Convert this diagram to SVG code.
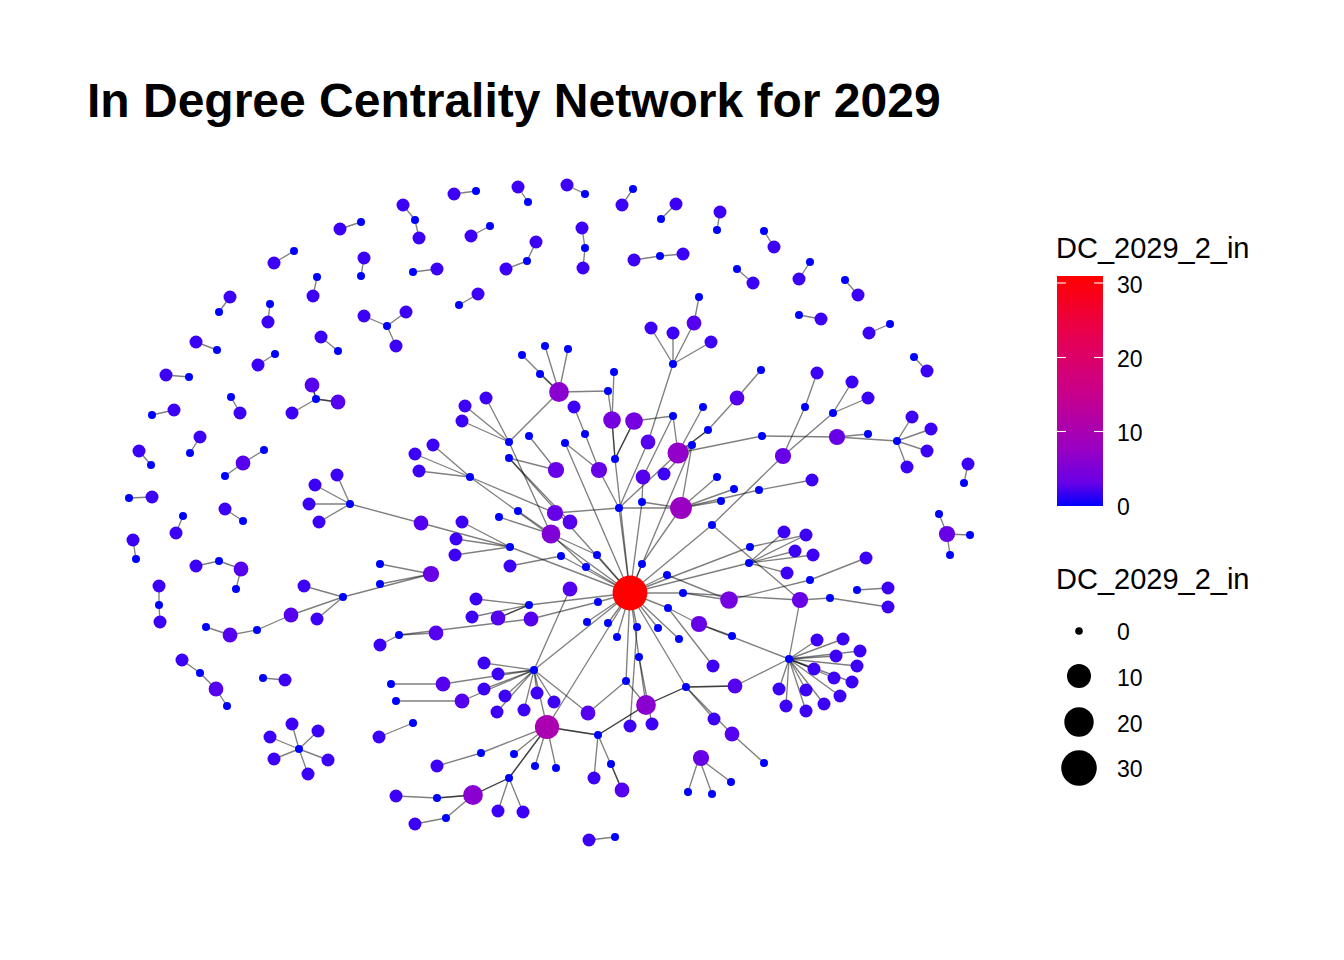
<svg xmlns="http://www.w3.org/2000/svg" width="1344" height="960" viewBox="0 0 1344 960">
<style>
text{font-family:"Liberation Sans",Arial,sans-serif;fill:#000}
.title{font-size:48px;font-weight:bold}
.lt{font-size:29px}
.tk{font-size:23px}
.e line{stroke:#000;stroke-opacity:.5;stroke-width:1.35}
.d0{fill:#0000FF;r:4px}
.d1{fill:#3D00F7;r:6.5px}
.d2{fill:#5500EF;r:7.4px}
.d3{fill:#6800E7;r:8.1px}
.d4{fill:#7500E0;r:8.8px}
.d5{fill:#8000D8;r:9.4px}
.d6{fill:#8A00D0;r:9.9px}
.d7{fill:#9200C9;r:10.5px}
.d8{fill:#9A00C2;r:10.9px}
.d10{fill:#AB00B2;r:12.1px}
.d31{fill:#FF0000;r:17.4px}
.tick{stroke:#fff;stroke-width:1.1}
</style>
<defs>
<linearGradient id="cbar" x1="0" y1="1" x2="0" y2="0">
<stop offset="0" stop-color="#0000FF"/>
<stop offset="0.1" stop-color="#6800E7"/>
<stop offset="0.25" stop-color="#9A00C2"/>
<stop offset="0.5" stop-color="#CA0089"/>
<stop offset="0.75" stop-color="#E8004F"/>
<stop offset="1" stop-color="#FF0000"/>
</linearGradient>
</defs>
<rect width="1344" height="960" fill="#fff"/>
<text class="title" x="87" y="117">In Degree Centrality Network for 2029</text>

<g id="edges" class="e">
<line x1="454" y1="194" x2="476" y2="191"/>
<line x1="518" y1="187" x2="528" y2="202"/>
<line x1="567" y1="185" x2="585" y2="194"/>
<line x1="633" y1="189" x2="622" y2="205"/>
<line x1="676" y1="204" x2="661" y2="219"/>
<line x1="720" y1="212" x2="717" y2="230"/>
<line x1="764" y1="231" x2="774" y2="247"/>
<line x1="737" y1="269" x2="753" y2="283"/>
<line x1="810" y1="262" x2="799" y2="279"/>
<line x1="845" y1="280" x2="858" y2="295"/>
<line x1="799" y1="315" x2="821" y2="319"/>
<line x1="890" y1="324" x2="869" y2="333"/>
<line x1="914" y1="357" x2="927" y2="371"/>
<line x1="340" y1="229" x2="361" y2="222"/>
<line x1="274" y1="263" x2="294" y2="251"/>
<line x1="364" y1="258" x2="361" y2="276"/>
<line x1="317" y1="277" x2="313" y2="296"/>
<line x1="230" y1="297" x2="219" y2="312"/>
<line x1="270" y1="304" x2="268" y2="322"/>
<line x1="387" y1="326" x2="364" y2="316"/>
<line x1="387" y1="326" x2="406" y2="312"/>
<line x1="387" y1="326" x2="396" y2="346"/>
<line x1="196" y1="342" x2="217" y2="350"/>
<line x1="321" y1="337" x2="338" y2="351"/>
<line x1="275" y1="354" x2="258" y2="365"/>
<line x1="166" y1="375" x2="189" y2="377"/>
<line x1="316" y1="399" x2="312" y2="385"/>
<line x1="316" y1="399" x2="312" y2="385"/>
<line x1="316" y1="399" x2="338" y2="402"/>
<line x1="316" y1="399" x2="338" y2="402"/>
<line x1="316" y1="399" x2="292" y2="413"/>
<line x1="231" y1="397" x2="240" y2="413"/>
<line x1="174" y1="410" x2="152" y2="415"/>
<line x1="415" y1="220" x2="403" y2="205"/>
<line x1="415" y1="220" x2="419" y2="238"/>
<line x1="471" y1="236" x2="490" y2="226"/>
<line x1="527" y1="261" x2="536" y2="242"/>
<line x1="527" y1="261" x2="506" y2="269"/>
<line x1="585" y1="248" x2="582" y2="228"/>
<line x1="585" y1="248" x2="583" y2="268"/>
<line x1="660" y1="256" x2="634" y2="260"/>
<line x1="660" y1="256" x2="683" y2="254"/>
<line x1="413" y1="272" x2="437" y2="269"/>
<line x1="459" y1="305" x2="478" y2="294"/>
<line x1="200" y1="437" x2="190" y2="453"/>
<line x1="139" y1="451" x2="151" y2="465"/>
<line x1="264" y1="450" x2="243" y2="463"/>
<line x1="225" y1="476" x2="243" y2="463"/>
<line x1="129" y1="498" x2="152" y2="497"/>
<line x1="225" y1="509" x2="243" y2="521"/>
<line x1="183" y1="516" x2="176" y2="533"/>
<line x1="133" y1="540" x2="136" y2="559"/>
<line x1="219" y1="561" x2="196" y2="566"/>
<line x1="219" y1="561" x2="241" y2="569"/>
<line x1="236" y1="589" x2="241" y2="569"/>
<line x1="159" y1="605" x2="159" y2="586"/>
<line x1="159" y1="605" x2="160" y2="622"/>
<line x1="968" y1="464" x2="964" y2="483"/>
<line x1="939" y1="514" x2="947" y2="534"/>
<line x1="970" y1="535" x2="947" y2="534"/>
<line x1="950" y1="555" x2="947" y2="534"/>
<line x1="206" y1="627" x2="230" y2="635"/>
<line x1="257" y1="630" x2="230" y2="635"/>
<line x1="257" y1="630" x2="291" y2="615"/>
<line x1="200" y1="673" x2="182" y2="660"/>
<line x1="200" y1="673" x2="216" y2="689"/>
<line x1="227" y1="706" x2="216" y2="689"/>
<line x1="263" y1="678" x2="285" y2="680"/>
<line x1="299" y1="749" x2="292" y2="724"/>
<line x1="299" y1="749" x2="318" y2="731"/>
<line x1="299" y1="749" x2="270" y2="737"/>
<line x1="299" y1="749" x2="274" y2="759"/>
<line x1="299" y1="749" x2="328" y2="760"/>
<line x1="299" y1="749" x2="308" y2="774"/>
<line x1="615" y1="837" x2="589" y2="840"/>
<line x1="522" y1="355" x2="559" y2="392"/>
<line x1="545" y1="346" x2="559" y2="392"/>
<line x1="568" y1="349" x2="559" y2="392"/>
<line x1="540" y1="374" x2="559" y2="392"/>
<line x1="608" y1="391" x2="559" y2="392"/>
<line x1="509" y1="442" x2="559" y2="392"/>
<line x1="608" y1="391" x2="612" y2="420"/>
<line x1="614" y1="372" x2="612" y2="420"/>
<line x1="615" y1="459" x2="612" y2="420"/>
<line x1="615" y1="459" x2="612" y2="420"/>
<line x1="615" y1="459" x2="634" y2="421"/>
<line x1="615" y1="459" x2="634" y2="421"/>
<line x1="615" y1="459" x2="630" y2="593"/>
<line x1="585" y1="434" x2="574" y2="407"/>
<line x1="585" y1="434" x2="599" y2="470"/>
<line x1="565" y1="443" x2="599" y2="470"/>
<line x1="565" y1="443" x2="630" y2="593"/>
<line x1="529" y1="436" x2="556" y2="470"/>
<line x1="509" y1="458" x2="556" y2="470"/>
<line x1="509" y1="458" x2="570" y2="522"/>
<line x1="509" y1="458" x2="630" y2="593"/>
<line x1="509" y1="442" x2="465" y2="406"/>
<line x1="509" y1="442" x2="486" y2="398"/>
<line x1="509" y1="442" x2="462" y2="421"/>
<line x1="509" y1="442" x2="551" y2="534"/>
<line x1="470" y1="477" x2="433" y2="445"/>
<line x1="470" y1="477" x2="415" y2="454"/>
<line x1="470" y1="477" x2="419" y2="471"/>
<line x1="470" y1="477" x2="555" y2="513"/>
<line x1="470" y1="477" x2="630" y2="593"/>
<line x1="673" y1="364" x2="651" y2="328"/>
<line x1="673" y1="364" x2="673" y2="333"/>
<line x1="673" y1="364" x2="694" y2="323"/>
<line x1="699" y1="297" x2="694" y2="323"/>
<line x1="673" y1="364" x2="711" y2="342"/>
<line x1="673" y1="364" x2="648" y2="442"/>
<line x1="619" y1="508" x2="648" y2="442"/>
<line x1="619" y1="508" x2="599" y2="470"/>
<line x1="619" y1="508" x2="555" y2="513"/>
<line x1="619" y1="508" x2="678" y2="453"/>
<line x1="619" y1="508" x2="681" y2="508"/>
<line x1="619" y1="508" x2="630" y2="593"/>
<line x1="673" y1="416" x2="678" y2="453"/>
<line x1="673" y1="416" x2="643" y2="477"/>
<line x1="673" y1="416" x2="634" y2="421"/>
<line x1="692" y1="445" x2="678" y2="453"/>
<line x1="692" y1="445" x2="664" y2="474"/>
<line x1="692" y1="445" x2="681" y2="508"/>
<line x1="692" y1="445" x2="630" y2="593"/>
<line x1="642" y1="502" x2="643" y2="477"/>
<line x1="642" y1="502" x2="681" y2="508"/>
<line x1="642" y1="502" x2="630" y2="593"/>
<line x1="703" y1="407" x2="678" y2="453"/>
<line x1="708" y1="430" x2="678" y2="453"/>
<line x1="708" y1="430" x2="678" y2="453"/>
<line x1="708" y1="430" x2="737" y2="398"/>
<line x1="761" y1="370" x2="737" y2="398"/>
<line x1="762" y1="436" x2="678" y2="453"/>
<line x1="762" y1="436" x2="837" y2="437"/>
<line x1="868" y1="434" x2="837" y2="437"/>
<line x1="897" y1="441" x2="837" y2="437"/>
<line x1="897" y1="441" x2="912" y2="417"/>
<line x1="897" y1="441" x2="931" y2="429"/>
<line x1="897" y1="441" x2="927" y2="451"/>
<line x1="897" y1="441" x2="907" y2="467"/>
<line x1="805" y1="407" x2="817" y2="373"/>
<line x1="805" y1="407" x2="783" y2="456"/>
<line x1="833" y1="413" x2="852" y2="382"/>
<line x1="833" y1="413" x2="868" y2="398"/>
<line x1="833" y1="413" x2="783" y2="456"/>
<line x1="712" y1="525" x2="783" y2="456"/>
<line x1="712" y1="525" x2="630" y2="593"/>
<line x1="712" y1="525" x2="800" y2="600"/>
<line x1="717" y1="477" x2="681" y2="508"/>
<line x1="734" y1="489" x2="681" y2="508"/>
<line x1="721" y1="501" x2="681" y2="508"/>
<line x1="759" y1="490" x2="681" y2="508"/>
<line x1="759" y1="490" x2="812" y2="480"/>
<line x1="642" y1="564" x2="681" y2="508"/>
<line x1="642" y1="564" x2="630" y2="593"/>
<line x1="518" y1="511" x2="551" y2="534"/>
<line x1="499" y1="517" x2="551" y2="534"/>
<line x1="597" y1="555" x2="551" y2="534"/>
<line x1="597" y1="555" x2="630" y2="593"/>
<line x1="350" y1="504" x2="337" y2="475"/>
<line x1="350" y1="504" x2="315" y2="485"/>
<line x1="350" y1="504" x2="309" y2="504"/>
<line x1="350" y1="504" x2="319" y2="522"/>
<line x1="350" y1="504" x2="421" y2="523"/>
<line x1="510" y1="547" x2="421" y2="523"/>
<line x1="510" y1="547" x2="462" y2="522"/>
<line x1="510" y1="547" x2="456" y2="539"/>
<line x1="510" y1="547" x2="455" y2="555"/>
<line x1="510" y1="547" x2="630" y2="593"/>
<line x1="561" y1="556" x2="510" y2="566"/>
<line x1="561" y1="556" x2="630" y2="593"/>
<line x1="586" y1="567" x2="551" y2="534"/>
<line x1="586" y1="567" x2="630" y2="593"/>
<line x1="343" y1="597" x2="304" y2="586"/>
<line x1="343" y1="597" x2="291" y2="615"/>
<line x1="343" y1="597" x2="317" y2="619"/>
<line x1="343" y1="597" x2="431" y2="574"/>
<line x1="380" y1="564" x2="431" y2="574"/>
<line x1="380" y1="584" x2="431" y2="574"/>
<line x1="529" y1="605" x2="476" y2="599"/>
<line x1="529" y1="605" x2="498" y2="618"/>
<line x1="529" y1="605" x2="498" y2="618"/>
<line x1="529" y1="605" x2="472" y2="617"/>
<line x1="529" y1="605" x2="630" y2="593"/>
<line x1="598" y1="602" x2="531" y2="619"/>
<line x1="598" y1="602" x2="630" y2="593"/>
<line x1="399" y1="635" x2="531" y2="619"/>
<line x1="399" y1="635" x2="436" y2="633"/>
<line x1="399" y1="635" x2="380" y2="645"/>
<line x1="667" y1="575" x2="729" y2="600"/>
<line x1="667" y1="575" x2="630" y2="593"/>
<line x1="683" y1="593" x2="729" y2="600"/>
<line x1="683" y1="593" x2="800" y2="600"/>
<line x1="683" y1="593" x2="630" y2="593"/>
<line x1="810" y1="580" x2="729" y2="600"/>
<line x1="810" y1="580" x2="866" y2="558"/>
<line x1="749" y1="563" x2="784" y2="532"/>
<line x1="749" y1="563" x2="806" y2="535"/>
<line x1="749" y1="563" x2="795" y2="551"/>
<line x1="749" y1="563" x2="813" y2="555"/>
<line x1="749" y1="563" x2="787" y2="573"/>
<line x1="749" y1="563" x2="630" y2="593"/>
<line x1="750" y1="547" x2="806" y2="535"/>
<line x1="750" y1="547" x2="630" y2="593"/>
<line x1="830" y1="598" x2="800" y2="600"/>
<line x1="830" y1="598" x2="888" y2="607"/>
<line x1="857" y1="590" x2="888" y2="588"/>
<line x1="668" y1="608" x2="699" y2="624"/>
<line x1="668" y1="608" x2="713" y2="666"/>
<line x1="668" y1="608" x2="630" y2="593"/>
<line x1="732" y1="636" x2="699" y2="624"/>
<line x1="789" y1="659" x2="699" y2="624"/>
<line x1="789" y1="659" x2="800" y2="600"/>
<line x1="789" y1="659" x2="817" y2="640"/>
<line x1="789" y1="659" x2="843" y2="639"/>
<line x1="789" y1="659" x2="860" y2="651"/>
<line x1="789" y1="659" x2="836" y2="656"/>
<line x1="789" y1="659" x2="857" y2="666"/>
<line x1="789" y1="659" x2="814" y2="669"/>
<line x1="789" y1="659" x2="834" y2="678"/>
<line x1="789" y1="659" x2="852" y2="682"/>
<line x1="789" y1="659" x2="840" y2="696"/>
<line x1="789" y1="659" x2="824" y2="704"/>
<line x1="789" y1="659" x2="806" y2="690"/>
<line x1="789" y1="659" x2="806" y2="711"/>
<line x1="789" y1="659" x2="786" y2="706"/>
<line x1="789" y1="659" x2="779" y2="689"/>
<line x1="789" y1="659" x2="735" y2="686"/>
<line x1="686" y1="687" x2="735" y2="686"/>
<line x1="686" y1="687" x2="735" y2="686"/>
<line x1="686" y1="687" x2="646" y2="705"/>
<line x1="686" y1="687" x2="646" y2="705"/>
<line x1="686" y1="687" x2="714" y2="719"/>
<line x1="686" y1="687" x2="732" y2="734"/>
<line x1="686" y1="687" x2="630" y2="593"/>
<line x1="764" y1="763" x2="732" y2="734"/>
<line x1="731" y1="782" x2="699" y2="758"/>
<line x1="712" y1="794" x2="699" y2="758"/>
<line x1="688" y1="792" x2="699" y2="758"/>
<line x1="626" y1="681" x2="646" y2="705"/>
<line x1="626" y1="681" x2="588" y2="713"/>
<line x1="626" y1="681" x2="630" y2="593"/>
<line x1="639" y1="657" x2="646" y2="705"/>
<line x1="639" y1="657" x2="652" y2="724"/>
<line x1="639" y1="657" x2="630" y2="593"/>
<line x1="637" y1="627" x2="630" y2="726"/>
<line x1="637" y1="627" x2="630" y2="593"/>
<line x1="617" y1="637" x2="630" y2="593"/>
<line x1="658" y1="628" x2="630" y2="593"/>
<line x1="679" y1="639" x2="630" y2="593"/>
<line x1="608" y1="623" x2="630" y2="593"/>
<line x1="587" y1="622" x2="630" y2="593"/>
<line x1="598" y1="735" x2="547" y2="727"/>
<line x1="598" y1="735" x2="547" y2="727"/>
<line x1="598" y1="735" x2="646" y2="705"/>
<line x1="598" y1="735" x2="646" y2="705"/>
<line x1="598" y1="735" x2="594" y2="778"/>
<line x1="598" y1="735" x2="622" y2="790"/>
<line x1="611" y1="764" x2="622" y2="790"/>
<line x1="534" y1="670" x2="484" y2="663"/>
<line x1="534" y1="670" x2="498" y2="674"/>
<line x1="534" y1="670" x2="443" y2="684"/>
<line x1="534" y1="670" x2="484" y2="689"/>
<line x1="534" y1="670" x2="505" y2="696"/>
<line x1="534" y1="670" x2="462" y2="701"/>
<line x1="534" y1="670" x2="497" y2="712"/>
<line x1="534" y1="670" x2="524" y2="710"/>
<line x1="534" y1="670" x2="537" y2="693"/>
<line x1="534" y1="670" x2="554" y2="702"/>
<line x1="534" y1="670" x2="547" y2="727"/>
<line x1="534" y1="670" x2="588" y2="713"/>
<line x1="534" y1="670" x2="570" y2="589"/>
<line x1="534" y1="670" x2="630" y2="593"/>
<line x1="391" y1="684" x2="443" y2="684"/>
<line x1="396" y1="701" x2="462" y2="701"/>
<line x1="413" y1="723" x2="379" y2="737"/>
<line x1="481" y1="753" x2="547" y2="727"/>
<line x1="481" y1="753" x2="437" y2="766"/>
<line x1="514" y1="754" x2="547" y2="727"/>
<line x1="535" y1="766" x2="547" y2="727"/>
<line x1="556" y1="768" x2="547" y2="727"/>
<line x1="509" y1="778" x2="547" y2="727"/>
<line x1="509" y1="778" x2="547" y2="727"/>
<line x1="509" y1="778" x2="473" y2="795"/>
<line x1="509" y1="778" x2="473" y2="795"/>
<line x1="509" y1="778" x2="498" y2="811"/>
<line x1="509" y1="778" x2="523" y2="812"/>
<line x1="437" y1="798" x2="473" y2="795"/>
<line x1="437" y1="798" x2="473" y2="795"/>
<line x1="437" y1="798" x2="396" y2="796"/>
<line x1="446" y1="818" x2="473" y2="795"/>
<line x1="446" y1="818" x2="415" y2="824"/>
<line x1="547" y1="727" x2="630" y2="593"/>
</g>

<g id="n1"><circle class="d1" cx="454" cy="194"/></g>
<g id="n2"><circle class="d0" cx="476" cy="191"/></g>
<g id="n3"><circle class="d1" cx="518" cy="187"/></g>
<g id="n4"><circle class="d0" cx="528" cy="202"/></g>
<g id="n5"><circle class="d1" cx="567" cy="185"/></g>
<g id="n6"><circle class="d0" cx="585" cy="194"/></g>
<g id="n7"><circle class="d0" cx="633" cy="189"/></g>
<g id="n8"><circle class="d1" cx="622" cy="205"/></g>
<g id="n9"><circle class="d1" cx="676" cy="204"/></g>
<g id="n10"><circle class="d0" cx="661" cy="219"/></g>
<g id="n11"><circle class="d1" cx="720" cy="212"/></g>
<g id="n12"><circle class="d0" cx="717" cy="230"/></g>
<g id="n13"><circle class="d0" cx="764" cy="231"/></g>
<g id="n14"><circle class="d1" cx="774" cy="247"/></g>
<g id="n15"><circle class="d0" cx="737" cy="269"/></g>
<g id="n16"><circle class="d1" cx="753" cy="283"/></g>
<g id="n17"><circle class="d0" cx="810" cy="262"/></g>
<g id="n18"><circle class="d1" cx="799" cy="279"/></g>
<g id="n19"><circle class="d0" cx="845" cy="280"/></g>
<g id="n20"><circle class="d1" cx="858" cy="295"/></g>
<g id="n21"><circle class="d0" cx="799" cy="315"/></g>
<g id="n22"><circle class="d1" cx="821" cy="319"/></g>
<g id="n23"><circle class="d0" cx="890" cy="324"/></g>
<g id="n24"><circle class="d1" cx="869" cy="333"/></g>
<g id="n25"><circle class="d0" cx="914" cy="357"/></g>
<g id="n26"><circle class="d1" cx="927" cy="371"/></g>
<g id="n27"><circle class="d1" cx="340" cy="229"/></g>
<g id="n28"><circle class="d0" cx="361" cy="222"/></g>
<g id="n29"><circle class="d1" cx="274" cy="263"/></g>
<g id="n30"><circle class="d0" cx="294" cy="251"/></g>
<g id="n31"><circle class="d1" cx="364" cy="258"/></g>
<g id="n32"><circle class="d0" cx="361" cy="276"/></g>
<g id="n33"><circle class="d0" cx="317" cy="277"/></g>
<g id="n34"><circle class="d1" cx="313" cy="296"/></g>
<g id="n35"><circle class="d1" cx="230" cy="297"/></g>
<g id="n36"><circle class="d0" cx="219" cy="312"/></g>
<g id="n37"><circle class="d0" cx="270" cy="304"/></g>
<g id="n38"><circle class="d1" cx="268" cy="322"/></g>
<g id="n39"><circle class="d0" cx="387" cy="326"/></g>
<g id="n40"><circle class="d1" cx="364" cy="316"/></g>
<g id="n41"><circle class="d1" cx="406" cy="312"/></g>
<g id="n42"><circle class="d1" cx="396" cy="346"/></g>
<g id="n43"><circle class="d1" cx="196" cy="342"/></g>
<g id="n44"><circle class="d0" cx="217" cy="350"/></g>
<g id="n45"><circle class="d1" cx="321" cy="337"/></g>
<g id="n46"><circle class="d0" cx="338" cy="351"/></g>
<g id="n47"><circle class="d0" cx="275" cy="354"/></g>
<g id="n48"><circle class="d1" cx="258" cy="365"/></g>
<g id="n49"><circle class="d1" cx="166" cy="375"/></g>
<g id="n50"><circle class="d0" cx="189" cy="377"/></g>
<g id="n51"><circle class="d0" cx="316" cy="399"/></g>
<g id="n52"><circle class="d2" cx="312" cy="385"/></g>
<g id="n53"><circle class="d2" cx="338" cy="402"/></g>
<g id="n54"><circle class="d1" cx="292" cy="413"/></g>
<g id="n55"><circle class="d0" cx="231" cy="397"/></g>
<g id="n56"><circle class="d1" cx="240" cy="413"/></g>
<g id="n57"><circle class="d1" cx="174" cy="410"/></g>
<g id="n58"><circle class="d0" cx="152" cy="415"/></g>
<g id="n59"><circle class="d1" cx="403" cy="205"/></g>
<g id="n60"><circle class="d0" cx="415" cy="220"/></g>
<g id="n61"><circle class="d1" cx="419" cy="238"/></g>
<g id="n62"><circle class="d1" cx="471" cy="236"/></g>
<g id="n63"><circle class="d0" cx="490" cy="226"/></g>
<g id="n64"><circle class="d1" cx="536" cy="242"/></g>
<g id="n65"><circle class="d0" cx="527" cy="261"/></g>
<g id="n66"><circle class="d1" cx="506" cy="269"/></g>
<g id="n67"><circle class="d1" cx="582" cy="228"/></g>
<g id="n68"><circle class="d0" cx="585" cy="248"/></g>
<g id="n69"><circle class="d1" cx="583" cy="268"/></g>
<g id="n70"><circle class="d1" cx="634" cy="260"/></g>
<g id="n71"><circle class="d0" cx="660" cy="256"/></g>
<g id="n72"><circle class="d1" cx="683" cy="254"/></g>
<g id="n73"><circle class="d0" cx="413" cy="272"/></g>
<g id="n74"><circle class="d1" cx="437" cy="269"/></g>
<g id="n75"><circle class="d0" cx="459" cy="305"/></g>
<g id="n76"><circle class="d1" cx="478" cy="294"/></g>
<g id="n77"><circle class="d1" cx="200" cy="437"/></g>
<g id="n78"><circle class="d0" cx="190" cy="453"/></g>
<g id="n79"><circle class="d1" cx="139" cy="451"/></g>
<g id="n80"><circle class="d0" cx="151" cy="465"/></g>
<g id="n81"><circle class="d2" cx="243" cy="463"/></g>
<g id="n82"><circle class="d0" cx="264" cy="450"/></g>
<g id="n83"><circle class="d0" cx="225" cy="476"/></g>
<g id="n84"><circle class="d0" cx="129" cy="498"/></g>
<g id="n85"><circle class="d1" cx="152" cy="497"/></g>
<g id="n86"><circle class="d1" cx="225" cy="509"/></g>
<g id="n87"><circle class="d0" cx="243" cy="521"/></g>
<g id="n88"><circle class="d0" cx="183" cy="516"/></g>
<g id="n89"><circle class="d1" cx="176" cy="533"/></g>
<g id="n90"><circle class="d1" cx="133" cy="540"/></g>
<g id="n91"><circle class="d0" cx="136" cy="559"/></g>
<g id="n92"><circle class="d1" cx="196" cy="566"/></g>
<g id="n93"><circle class="d0" cx="219" cy="561"/></g>
<g id="n94"><circle class="d2" cx="241" cy="569"/></g>
<g id="n95"><circle class="d0" cx="236" cy="589"/></g>
<g id="n96"><circle class="d1" cx="159" cy="586"/></g>
<g id="n97"><circle class="d0" cx="159" cy="605"/></g>
<g id="n98"><circle class="d1" cx="160" cy="622"/></g>
<g id="n99"><circle class="d1" cx="968" cy="464"/></g>
<g id="n100"><circle class="d0" cx="964" cy="483"/></g>
<g id="n101"><circle class="d3" cx="947" cy="534"/></g>
<g id="n102"><circle class="d0" cx="939" cy="514"/></g>
<g id="n103"><circle class="d0" cx="970" cy="535"/></g>
<g id="n104"><circle class="d0" cx="950" cy="555"/></g>
<g id="n105"><circle class="d0" cx="206" cy="627"/></g>
<g id="n106"><circle class="d2" cx="230" cy="635"/></g>
<g id="n107"><circle class="d0" cx="257" cy="630"/></g>
<g id="n108"><circle class="d1" cx="182" cy="660"/></g>
<g id="n109"><circle class="d0" cx="200" cy="673"/></g>
<g id="n110"><circle class="d2" cx="216" cy="689"/></g>
<g id="n111"><circle class="d0" cx="227" cy="706"/></g>
<g id="n112"><circle class="d0" cx="263" cy="678"/></g>
<g id="n113"><circle class="d1" cx="285" cy="680"/></g>
<g id="n114"><circle class="d0" cx="299" cy="749"/></g>
<g id="n115"><circle class="d1" cx="292" cy="724"/></g>
<g id="n116"><circle class="d1" cx="318" cy="731"/></g>
<g id="n117"><circle class="d1" cx="270" cy="737"/></g>
<g id="n118"><circle class="d1" cx="274" cy="759"/></g>
<g id="n119"><circle class="d1" cx="328" cy="760"/></g>
<g id="n120"><circle class="d1" cx="308" cy="774"/></g>
<g id="n121"><circle class="d1" cx="589" cy="840"/></g>
<g id="n122"><circle class="d0" cx="615" cy="837"/></g>
<g id="n123"><circle class="d6" cx="559" cy="392"/></g>
<g id="n124"><circle class="d0" cx="522" cy="355"/></g>
<g id="n125"><circle class="d0" cx="545" cy="346"/></g>
<g id="n126"><circle class="d0" cx="568" cy="349"/></g>
<g id="n127"><circle class="d0" cx="540" cy="374"/></g>
<g id="n128"><circle class="d0" cx="608" cy="391"/></g>
<g id="n129"><circle class="d0" cx="614" cy="372"/></g>
<g id="n130"><circle class="d1" cx="574" cy="407"/></g>
<g id="n131"><circle class="d4" cx="612" cy="420"/></g>
<g id="n132"><circle class="d4" cx="634" cy="421"/></g>
<g id="n133"><circle class="d0" cx="615" cy="459"/></g>
<g id="n134"><circle class="d1" cx="465" cy="406"/></g>
<g id="n135"><circle class="d1" cx="486" cy="398"/></g>
<g id="n136"><circle class="d1" cx="462" cy="421"/></g>
<g id="n137"><circle class="d0" cx="509" cy="442"/></g>
<g id="n138"><circle class="d0" cx="529" cy="436"/></g>
<g id="n139"><circle class="d0" cx="585" cy="434"/></g>
<g id="n140"><circle class="d0" cx="565" cy="443"/></g>
<g id="n141"><circle class="d0" cx="509" cy="458"/></g>
<g id="n142"><circle class="d3" cx="556" cy="470"/></g>
<g id="n143"><circle class="d3" cx="599" cy="470"/></g>
<g id="n144"><circle class="d1" cx="433" cy="445"/></g>
<g id="n145"><circle class="d1" cx="415" cy="454"/></g>
<g id="n146"><circle class="d1" cx="419" cy="471"/></g>
<g id="n147"><circle class="d0" cx="470" cy="477"/></g>
<g id="n148"><circle class="d1" cx="651" cy="328"/></g>
<g id="n149"><circle class="d1" cx="673" cy="333"/></g>
<g id="n150"><circle class="d2" cx="694" cy="323"/></g>
<g id="n151"><circle class="d0" cx="699" cy="297"/></g>
<g id="n152"><circle class="d0" cx="673" cy="364"/></g>
<g id="n153"><circle class="d1" cx="711" cy="342"/></g>
<g id="n154"><circle class="d2" cx="648" cy="442"/></g>
<g id="n155"><circle class="d0" cx="673" cy="416"/></g>
<g id="n156"><circle class="d0" cx="692" cy="445"/></g>
<g id="n157"><circle class="d7" cx="678" cy="453"/></g>
<g id="n158"><circle class="d2" cx="643" cy="477"/></g>
<g id="n159"><circle class="d1" cx="664" cy="474"/></g>
<g id="n160"><circle class="d0" cx="642" cy="502"/></g>
<g id="n161"><circle class="d0" cx="619" cy="508"/></g>
<g id="n162"><circle class="d8" cx="681" cy="508"/></g>
<g id="n163"><circle class="d0" cx="703" cy="407"/></g>
<g id="n164"><circle class="d0" cx="708" cy="430"/></g>
<g id="n165"><circle class="d2" cx="737" cy="398"/></g>
<g id="n166"><circle class="d0" cx="761" cy="370"/></g>
<g id="n167"><circle class="d0" cx="805" cy="407"/></g>
<g id="n168"><circle class="d1" cx="817" cy="373"/></g>
<g id="n169"><circle class="d0" cx="833" cy="413"/></g>
<g id="n170"><circle class="d1" cx="852" cy="382"/></g>
<g id="n171"><circle class="d1" cx="868" cy="398"/></g>
<g id="n172"><circle class="d0" cx="762" cy="436"/></g>
<g id="n173"><circle class="d3" cx="837" cy="437"/></g>
<g id="n174"><circle class="d0" cx="868" cy="434"/></g>
<g id="n175"><circle class="d0" cx="897" cy="441"/></g>
<g id="n176"><circle class="d1" cx="912" cy="417"/></g>
<g id="n177"><circle class="d1" cx="931" cy="429"/></g>
<g id="n178"><circle class="d1" cx="927" cy="451"/></g>
<g id="n179"><circle class="d1" cx="907" cy="467"/></g>
<g id="n180"><circle class="d3" cx="783" cy="456"/></g>
<g id="n181"><circle class="d0" cx="717" cy="477"/></g>
<g id="n182"><circle class="d0" cx="734" cy="489"/></g>
<g id="n183"><circle class="d0" cx="721" cy="501"/></g>
<g id="n184"><circle class="d0" cx="759" cy="490"/></g>
<g id="n185"><circle class="d1" cx="812" cy="480"/></g>
<g id="n186"><circle class="d0" cx="712" cy="525"/></g>
<g id="n187"><circle class="d3" cx="555" cy="513"/></g>
<g id="n188"><circle class="d2" cx="570" cy="522"/></g>
<g id="n189"><circle class="d5" cx="551" cy="534"/></g>
<g id="n190"><circle class="d0" cx="518" cy="511"/></g>
<g id="n191"><circle class="d0" cx="499" cy="517"/></g>
<g id="n192"><circle class="d0" cx="350" cy="504"/></g>
<g id="n193"><circle class="d1" cx="337" cy="475"/></g>
<g id="n194"><circle class="d1" cx="315" cy="485"/></g>
<g id="n195"><circle class="d1" cx="309" cy="504"/></g>
<g id="n196"><circle class="d1" cx="319" cy="522"/></g>
<g id="n197"><circle class="d2" cx="421" cy="523"/></g>
<g id="n198"><circle class="d0" cx="510" cy="547"/></g>
<g id="n199"><circle class="d1" cx="462" cy="522"/></g>
<g id="n200"><circle class="d1" cx="456" cy="539"/></g>
<g id="n201"><circle class="d1" cx="455" cy="555"/></g>
<g id="n202"><circle class="d0" cx="561" cy="556"/></g>
<g id="n203"><circle class="d0" cx="597" cy="555"/></g>
<g id="n204"><circle class="d0" cx="586" cy="567"/></g>
<g id="n205"><circle class="d1" cx="510" cy="566"/></g>
<g id="n206"><circle class="d2" cx="570" cy="589"/></g>
<g id="n207"><circle class="d3" cx="431" cy="574"/></g>
<g id="n208"><circle class="d0" cx="380" cy="564"/></g>
<g id="n209"><circle class="d0" cx="380" cy="584"/></g>
<g id="n210"><circle class="d0" cx="343" cy="597"/></g>
<g id="n211"><circle class="d1" cx="304" cy="586"/></g>
<g id="n212"><circle class="d2" cx="291" cy="615"/></g>
<g id="n213"><circle class="d1" cx="317" cy="619"/></g>
<g id="n214"><circle class="d1" cx="476" cy="599"/></g>
<g id="n215"><circle class="d1" cx="472" cy="617"/></g>
<g id="n216"><circle class="d2" cx="498" cy="618"/></g>
<g id="n217"><circle class="d2" cx="531" cy="619"/></g>
<g id="n218"><circle class="d0" cx="529" cy="605"/></g>
<g id="n219"><circle class="d0" cx="598" cy="602"/></g>
<g id="n220"><circle class="d0" cx="642" cy="564"/></g>
<g id="n221"><circle class="d0" cx="667" cy="575"/></g>
<g id="n222"><circle class="d0" cx="683" cy="593"/></g>
<g id="n223"><circle class="d0" cx="668" cy="608"/></g>
<g id="n224"><circle class="d0" cx="587" cy="622"/></g>
<g id="n225"><circle class="d0" cx="608" cy="623"/></g>
<g id="n226"><circle class="d0" cx="617" cy="637"/></g>
<g id="n227"><circle class="d0" cx="637" cy="627"/></g>
<g id="n228"><circle class="d0" cx="658" cy="628"/></g>
<g id="n229"><circle class="d0" cx="679" cy="639"/></g>
<g id="n230"><circle class="d0" cx="639" cy="657"/></g>
<g id="n231"><circle class="d0" cx="626" cy="681"/></g>
<g id="n232"><circle class="d4" cx="729" cy="600"/></g>
<g id="n233"><circle class="d3" cx="800" cy="600"/></g>
<g id="n234"><circle class="d0" cx="750" cy="547"/></g>
<g id="n235"><circle class="d0" cx="749" cy="563"/></g>
<g id="n236"><circle class="d1" cx="784" cy="532"/></g>
<g id="n237"><circle class="d1" cx="806" cy="535"/></g>
<g id="n238"><circle class="d1" cx="795" cy="551"/></g>
<g id="n239"><circle class="d1" cx="813" cy="555"/></g>
<g id="n240"><circle class="d1" cx="787" cy="573"/></g>
<g id="n241"><circle class="d1" cx="866" cy="558"/></g>
<g id="n242"><circle class="d0" cx="810" cy="580"/></g>
<g id="n243"><circle class="d0" cx="857" cy="590"/></g>
<g id="n244"><circle class="d0" cx="830" cy="598"/></g>
<g id="n245"><circle class="d1" cx="888" cy="588"/></g>
<g id="n246"><circle class="d1" cx="888" cy="607"/></g>
<g id="n247"><circle class="d3" cx="699" cy="624"/></g>
<g id="n248"><circle class="d0" cx="732" cy="636"/></g>
<g id="n249"><circle class="d0" cx="789" cy="659"/></g>
<g id="n250"><circle class="d1" cx="817" cy="640"/></g>
<g id="n251"><circle class="d1" cx="843" cy="639"/></g>
<g id="n252"><circle class="d1" cx="860" cy="651"/></g>
<g id="n253"><circle class="d1" cx="836" cy="656"/></g>
<g id="n254"><circle class="d1" cx="857" cy="666"/></g>
<g id="n255"><circle class="d1" cx="814" cy="669"/></g>
<g id="n256"><circle class="d1" cx="834" cy="678"/></g>
<g id="n257"><circle class="d1" cx="852" cy="682"/></g>
<g id="n258"><circle class="d1" cx="840" cy="696"/></g>
<g id="n259"><circle class="d1" cx="824" cy="704"/></g>
<g id="n260"><circle class="d1" cx="806" cy="690"/></g>
<g id="n261"><circle class="d1" cx="806" cy="711"/></g>
<g id="n262"><circle class="d1" cx="786" cy="706"/></g>
<g id="n263"><circle class="d1" cx="779" cy="689"/></g>
<g id="n264"><circle class="d2" cx="735" cy="686"/></g>
<g id="n265"><circle class="d0" cx="686" cy="687"/></g>
<g id="n266"><circle class="d1" cx="713" cy="666"/></g>
<g id="n267"><circle class="d1" cx="714" cy="719"/></g>
<g id="n268"><circle class="d2" cx="732" cy="734"/></g>
<g id="n269"><circle class="d0" cx="764" cy="763"/></g>
<g id="n270"><circle class="d3" cx="701" cy="758"/></g>
<g id="n271"><circle class="d0" cx="731" cy="782"/></g>
<g id="n272"><circle class="d0" cx="712" cy="794"/></g>
<g id="n273"><circle class="d0" cx="688" cy="792"/></g>
<g id="n274"><circle class="d6" cx="646" cy="705"/></g>
<g id="n275"><circle class="d1" cx="630" cy="726"/></g>
<g id="n276"><circle class="d1" cx="652" cy="724"/></g>
<g id="n277"><circle class="d2" cx="588" cy="713"/></g>
<g id="n278"><circle class="d0" cx="598" cy="735"/></g>
<g id="n279"><circle class="d1" cx="594" cy="778"/></g>
<g id="n280"><circle class="d0" cx="611" cy="764"/></g>
<g id="n281"><circle class="d2" cx="622" cy="790"/></g>
<g id="n282"><circle class="d0" cx="534" cy="670"/></g>
<g id="n283"><circle class="d1" cx="484" cy="663"/></g>
<g id="n284"><circle class="d1" cx="498" cy="674"/></g>
<g id="n285"><circle class="d2" cx="443" cy="684"/></g>
<g id="n286"><circle class="d1" cx="484" cy="689"/></g>
<g id="n287"><circle class="d1" cx="505" cy="696"/></g>
<g id="n288"><circle class="d2" cx="462" cy="701"/></g>
<g id="n289"><circle class="d1" cx="497" cy="712"/></g>
<g id="n290"><circle class="d1" cx="524" cy="710"/></g>
<g id="n291"><circle class="d1" cx="537" cy="693"/></g>
<g id="n292"><circle class="d1" cx="554" cy="702"/></g>
<g id="n293"><circle class="d10" cx="547" cy="727"/></g>
<g id="n294"><circle class="d0" cx="481" cy="753"/></g>
<g id="n295"><circle class="d1" cx="437" cy="766"/></g>
<g id="n296"><circle class="d0" cx="514" cy="754"/></g>
<g id="n297"><circle class="d0" cx="535" cy="766"/></g>
<g id="n298"><circle class="d0" cx="556" cy="768"/></g>
<g id="n299"><circle class="d0" cx="509" cy="778"/></g>
<g id="n300"><circle class="d1" cx="498" cy="811"/></g>
<g id="n301"><circle class="d1" cx="523" cy="812"/></g>
<g id="n302"><circle class="d6" cx="473" cy="795"/></g>
<g id="n303"><circle class="d0" cx="437" cy="798"/></g>
<g id="n304"><circle class="d1" cx="396" cy="796"/></g>
<g id="n305"><circle class="d0" cx="446" cy="818"/></g>
<g id="n306"><circle class="d1" cx="415" cy="824"/></g>
<g id="n307"><circle class="d0" cx="413" cy="723"/></g>
<g id="n308"><circle class="d1" cx="379" cy="737"/></g>
<g id="n309"><circle class="d0" cx="391" cy="684"/></g>
<g id="n310"><circle class="d0" cx="396" cy="701"/></g>
<g id="n311"><circle class="d1" cx="380" cy="645"/></g>
<g id="n312"><circle class="d0" cx="399" cy="635"/></g>
<g id="n313"><circle class="d2" cx="436" cy="633"/></g>
<g id="n314"><circle class="d31" cx="630" cy="593"/></g>

<g id="legend-colour">
<text class="lt" x="1056" y="258">DC_2029_2_in</text>
<rect x="1057" y="276" width="46" height="230" fill="url(#cbar)"/>
<line class="tick" x1="1057" y1="283" x2="1066" y2="283"/>
<line class="tick" x1="1094" y1="283" x2="1103" y2="283"/>
<line class="tick" x1="1057" y1="357.5" x2="1066" y2="357.5"/>
<line class="tick" x1="1094" y1="357.5" x2="1103" y2="357.5"/>
<line class="tick" x1="1057" y1="431.5" x2="1066" y2="431.5"/>
<line class="tick" x1="1094" y1="431.5" x2="1103" y2="431.5"/>
<text class="tk" x="1117" y="293">30</text>
<text class="tk" x="1117" y="367">20</text>
<text class="tk" x="1117" y="441">10</text>
<text class="tk" x="1117" y="515">0</text>
</g>
<g id="legend-size">
<text class="lt" x="1056" y="589">DC_2029_2_in</text>
<circle cx="1079" cy="631" r="3.8" fill="#000"/>
<circle cx="1079" cy="676" r="12" fill="#000"/>
<circle cx="1079" cy="722" r="14.7" fill="#000"/>
<circle cx="1079" cy="768" r="17.8" fill="#000"/>
<text class="tk" x="1117" y="640">0</text>
<text class="tk" x="1117" y="686">10</text>
<text class="tk" x="1117" y="732">20</text>
<text class="tk" x="1117" y="777">30</text>
</g>
</svg>
